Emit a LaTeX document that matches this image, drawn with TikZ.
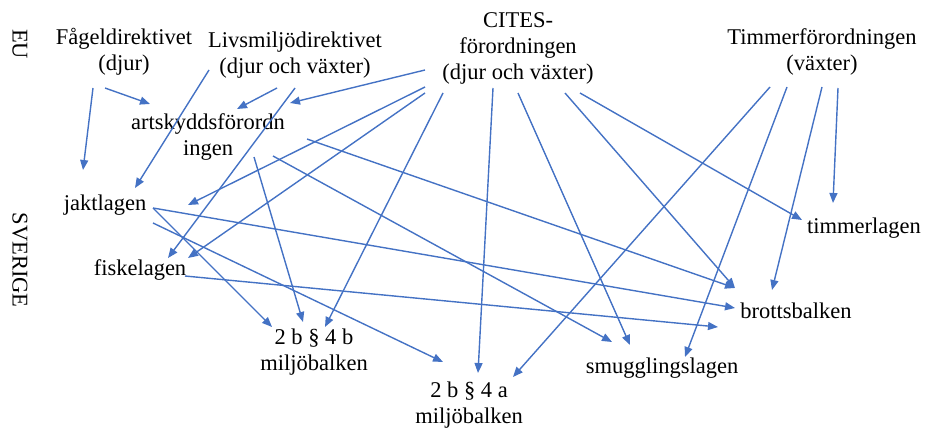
\documentclass[tikz,border=0pt]{standalone}
\usepackage{fontspec}
\setmainfont{Liberation Serif}
\usetikzlibrary{arrows.meta}
\definecolor{arrblue}{HTML}{4472C4}
\tikzset{
  lbl/.style={inner sep=0pt, align=center, font=\fontsize{22.5}{26}\selectfont},
  arr/.style={draw=arrblue, line width=1.4pt, -{Triangle[length=10pt,width=8pt]}}
}
\begin{document}
\begin{tikzpicture}[x=1pt,y=-1pt]
\useasboundingbox (0,0) rectangle (926,433);
% labels
\node[lbl, rotate=-90] (eu) at (20,44) {EU};
\node[lbl, rotate=-90] (sv) at (20,260) {SVERIGE};
\node[lbl] (fagel) at (124,52) {Fågeldirektivet\\(djur)};
\node[lbl] (livs) at (295,55) {Livsmiljödirektivet\\(djur och växter)};
\node[lbl] (cites) at (518,48) {CITES-\\förordningen\\(djur och växter)};
\node[lbl] (timmer) at (822,52) {Timmerförordningen\\(växter)};
\node[lbl] (arts) at (208,137) {artskyddsförordn\\ingen};
\node[lbl] (jakt) at (105,205) {jaktlagen};
\node[lbl] (fiske) at (140,270) {fiskelagen};
\node[lbl] (mb4b) at (314,352) {2 b § 4 b\\miljöbalken};
\node[lbl] (mb4a) at (469,405) {2 b § 4 a\\miljöbalken};
\node[lbl] (smugg) at (662,368) {smugglingslagen};
\node[lbl] (brott) at (796,311) {brottsbalken};
\node[lbl] (timl) at (864,228) {timmerlagen};
% connector end points
\coordinate (fS1) at (93,88);   \coordinate (jE1) at (83,170);
\coordinate (fS2) at (105,88);  \coordinate (aE1) at (150,104);
\coordinate (lS1) at (209,70);  \coordinate (jE2) at (135,188);
\coordinate (lS2) at (277,88);  \coordinate (aE2) at (237,109);
\coordinate (lS3) at (295,88);  \coordinate (fiE1) at (168,258);
\coordinate (cS1) at (425,70);  \coordinate (aE3) at (290,103);
\coordinate (cS2) at (425,87);  \coordinate (jE3) at (188,205);
\coordinate (cS3) at (425,93);  \coordinate (fiE2) at (188,258);
\coordinate (cS4) at (443,93);  \coordinate (bE1) at (325,327);
\coordinate (cS5) at (493,88);  \coordinate (mE1) at (478,373);
\coordinate (cS6) at (518,93);  \coordinate (sE1) at (630,345);
\coordinate (cS7) at (565,93);  \coordinate (brE1) at (735,288);
\coordinate (cS8) at (580,93);  \coordinate (tlE1) at (802,220);
\coordinate (aS1) at (254,157); \coordinate (bE2) at (303,322);
\coordinate (aS2) at (273,156); \coordinate (sE2) at (612,342);
\coordinate (aS3) at (307,139); \coordinate (brE2) at (735,288);
\coordinate (tS1) at (770,87);  \coordinate (mE2) at (513,377);
\coordinate (tS2) at (787,87);  \coordinate (sE3) at (685,357);
\coordinate (tS3) at (822,87);  \coordinate (brE3) at (772,290);
\coordinate (tS4) at (838,88);  \coordinate (tlE2) at (833,203);
\coordinate (jS1) at (153,208); \coordinate (brE4) at (735,308);
\coordinate (jS2) at (153,208); \coordinate (bE3) at (272,327);
\coordinate (jS3) at (153,223); \coordinate (mE3) at (443,362);
\coordinate (fiS1) at (185,276); \coordinate (brE5) at (718,327);
% connectors
\draw[arr] (fS1) -- (jE1);
\draw[arr] (fS2) -- (aE1);
\draw[arr] (lS1) -- (jE2);
\draw[arr] (lS2) -- (aE2);
\draw[arr] (lS3) -- (fiE1);
\draw[arr] (cS1) -- (aE3);
\draw[arr] (cS2) -- (jE3);
\draw[arr] (cS3) -- (fiE2);
\draw[arr] (cS4) -- (bE1);
\draw[arr] (cS5) -- (mE1);
\draw[arr] (cS6) -- (sE1);
\draw[arr] (cS7) -- (brE1);
\draw[arr] (cS8) -- (tlE1);
\draw[arr] (aS1) -- (bE2);
\draw[arr] (aS2) -- (sE2);
\draw[arr] (aS3) -- (brE2);
\draw[arr] (tS1) -- (mE2);
\draw[arr] (tS2) -- (sE3);
\draw[arr] (tS3) -- (brE3);
\draw[arr] (tS4) -- (tlE2);
\draw[arr] (jS1) -- (brE4);
\draw[arr] (jS2) -- (bE3);
\draw[arr] (jS3) -- (mE3);
\draw[arr] (fiS1) -- (brE5);
\end{tikzpicture}
\end{document}
